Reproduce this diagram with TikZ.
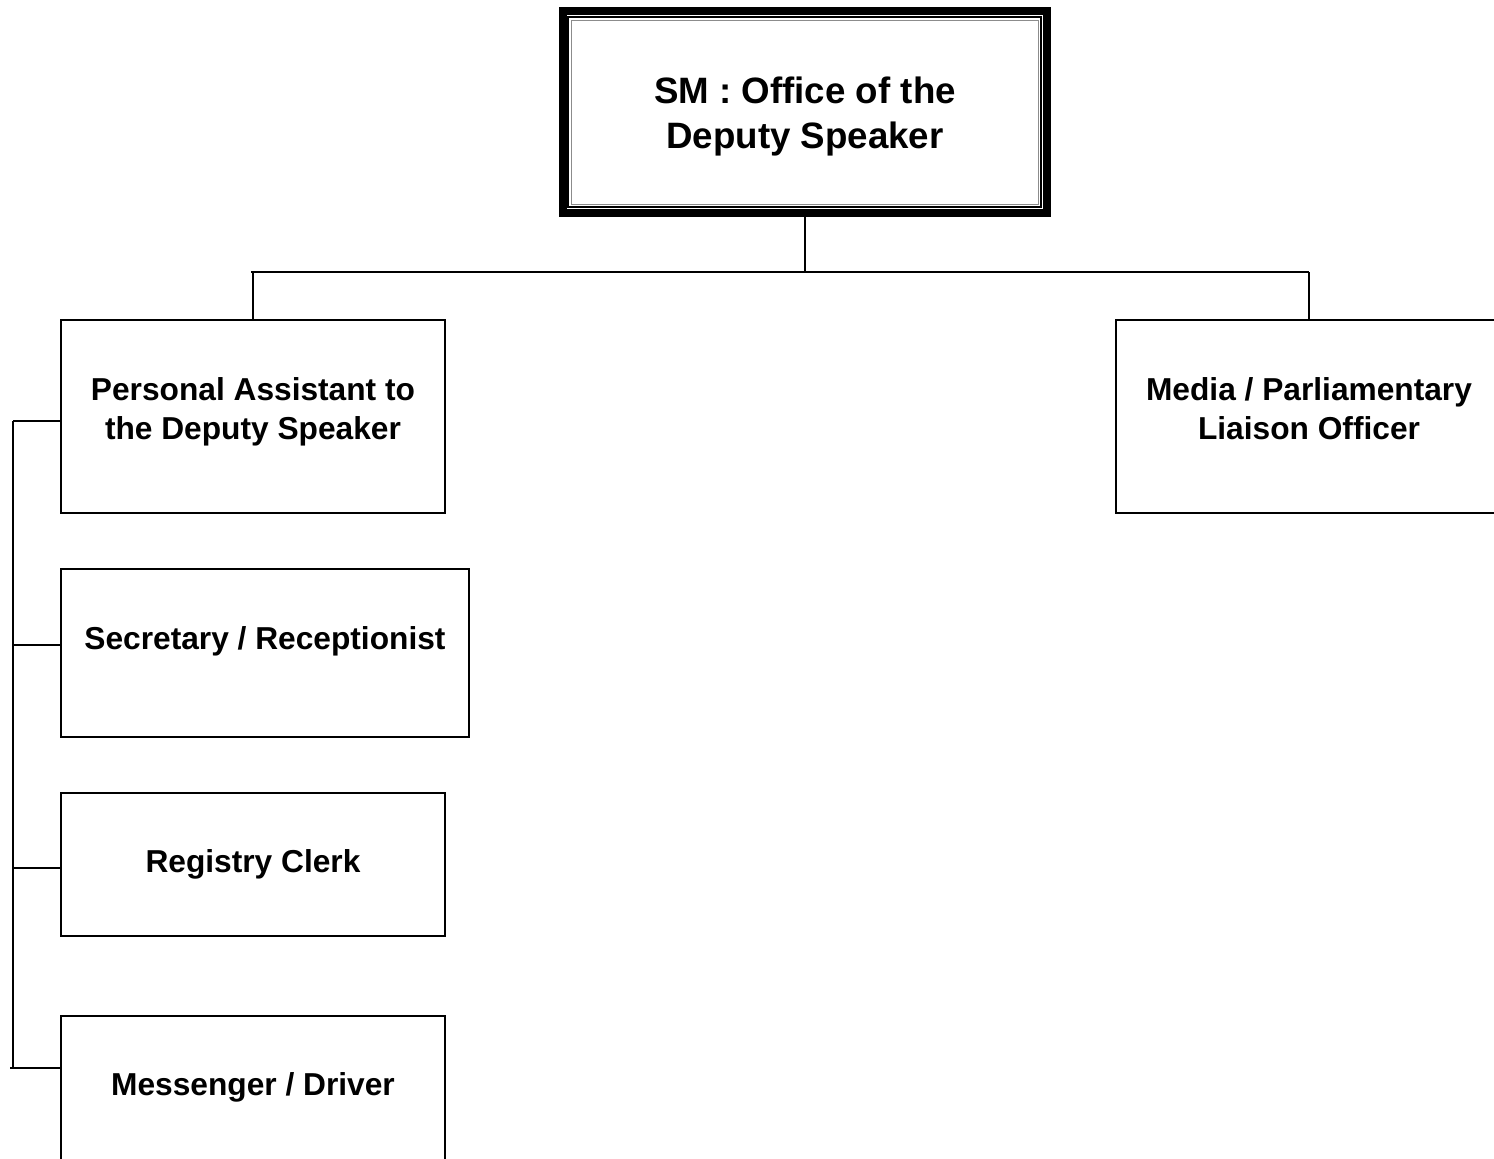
\documentclass[tikz,border=0pt]{standalone}
\usepackage{fontspec}
\setmainfont{Liberation Sans}
\begin{document}
\begin{tikzpicture}[x=1pt,y=-1pt,
  box/.style={draw=black,line width=2.5pt,rectangle,inner sep=0pt},
  lbl/.style={font=\bfseries\fontsize{31.7}{39}\selectfont,align=center,inner sep=0pt,anchor=center},
  conn/.style={draw=black,line width=2pt}]
\useasboundingbox (0,0) rectangle (1494,1159);
\clip (0,0) rectangle (1494,1159);
% top box
\node[rectangle,draw=black,line width=8pt,minimum width=484pt,minimum height=202pt,inner sep=0pt] (top) at (804.5,112) {};
\draw[black,line width=1.2pt] (568,17) rectangle (1041,207);
\draw[black!45,line width=1pt] (571,20) rectangle (1038,204);
\node[lbl,font=\bfseries\fontsize{36.7}{45}\selectfont] (toptxt) at (805,117) {SM : Office of the\\Deputy Speaker};
% boxes
\node[box,minimum width=384pt,minimum height=193pt] (pa) at (253,416.5) {};
\node[lbl] (patxt) at (253,412) {Personal Assistant to\\the Deputy Speaker};
\node[box,minimum width=408pt,minimum height=168pt] (sec) at (265,653) {};
\node[lbl] (sectxt) at (265,641) {Secretary / Receptionist};
\node[box,minimum width=384pt,minimum height=143pt] (reg) at (253,864.5) {};
\node[lbl] (regtxt) at (253,864) {Registry Clerk};
\node[box,minimum width=384pt,minimum height=193pt] (mes) at (253,1112.5) {};
\node[lbl] (mestxt) at (253,1087) {Messenger / Driver};
\node[box,minimum width=400pt,minimum height=193pt] (med) at (1316,416.5) {};
\node[lbl] (medtxt) at (1309,409) {Media / Parliamentary\\Liaison Officer};
% connectors
\coordinate (hl) at (251,272);
\coordinate (hr) at (1309,272);
\coordinate (hc) at (805,272);
\draw[conn] (top.south -| hc) -- (hc);
\draw[conn] (hl) -- (hr);
\draw[conn] (253,272) -- (pa.north -| 253,0);
\draw[conn] (hr) -- (med.north -| hr);
\coordinate (bt) at (13,421);
\coordinate (bb) at (13,1068);
\draw[conn] (bt) -- (bb);
\draw[conn] (bt) -- (pa.west |- bt);
\draw[conn] (13,645) -- (sec.west |- 0,645);
\draw[conn] (13,868) -- (reg.west |- 0,868);
\draw[conn] (10,1068) -- (mes.west |- bb);
\end{tikzpicture}
\end{document}
